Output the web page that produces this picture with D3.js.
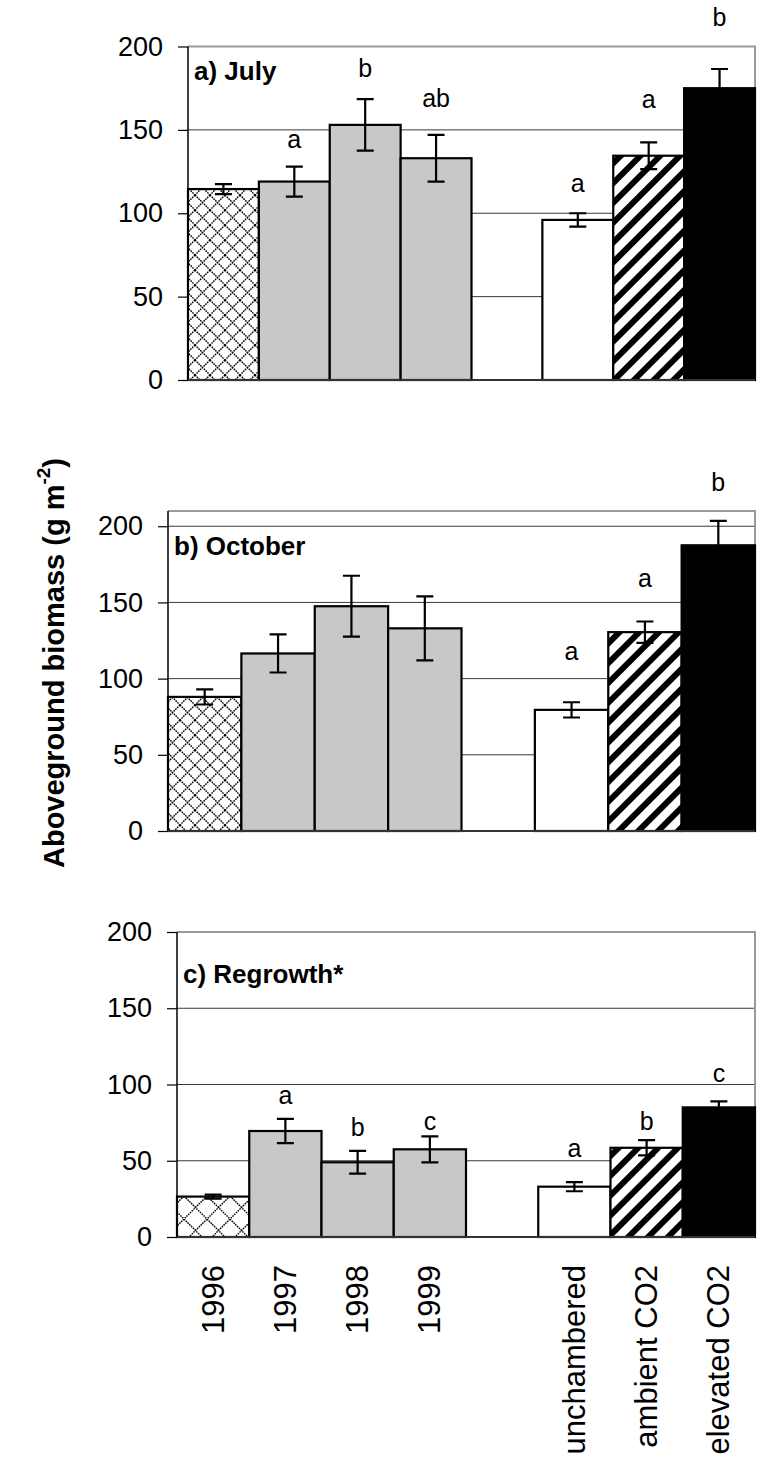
<!DOCTYPE html>
<html>
<head>
<meta charset="utf-8">
<script src="https://cdn.jsdelivr.net/npm/d3@7/dist/d3.min.js"></script>
<style>
  html, body { margin: 0; padding: 0; background: #fff; }
  svg { display: block; }
  text { font-family: "Liberation Sans", Arial, sans-serif; }
</style>
</head>
<body>
<svg id="chart" width="757" height="1460"></svg>
<script>
// Treatments along the x axis (a spacer slot separates years from chamber treatments)
const categories = ["1996", "1997", "1998", "1999", "unchambered", "ambient CO2", "elevated CO2"];
const yTicks = [0, 50, 100, 150, 200];

// a) July harvest
const julyMeans = [114.5, 119, 153, 133, 96, 134.5, 175];
const julyErr = [3, 9, 15.5, 14, 4, 8, 11.5];
const julyLetters = ["", "a", "b", "ab", "a", "a", "b"];
const julyLetterAt = [null, 139, 182, 164, 113, 163, 212];

// b) October harvest
const octMeans = [88, 116.5, 147.5, 133, 79.5, 130.5, 187.5];
const octErr = [5, 12.5, 20, 21, 5, 7, 16];
const octLetters = ["", "", "", "", "a", "a", "b"];
const octLetterAt = [null, null, null, null, 112, 160, 223];

// c) Regrowth
const regrowthMeans = [26.5, 69.5, 49, 57.5, 33, 58.5, 85];
const regrowthErr = [1.3, 8, 7.5, 8.5, 3, 5, 4];
const regrowthLetters = ["", "a", "b", "c", "a", "b", "c"];
const regrowthLetterAt = [null, 87, 66, 70, 52.5, 70, 101.5];

const svg = d3.select("#chart");
const defs = svg.append("defs");

// Fill style for each treatment
const fillKind = ["cross", "gray", "gray", "gray", "white", "stripe", "black"];

function makeCrossPattern(id, s) {
  const p = defs.append("pattern").attr("id", id)
    .attr("patternUnits", "userSpaceOnUse").attr("width", s).attr("height", s);
  p.append("rect").attr("width", s).attr("height", s).attr("fill", "#fff");
  p.append("path").attr("d", `M0,0L${s},${s}M${s},0L0,${s}`)
    .attr("stroke", "#000").attr("stroke-width", 1.4).attr("stroke-dasharray", "1.6 0.9");
}
makeCrossPattern("cross-a", 15);
makeCrossPattern("cross-b", 15);
makeCrossPattern("cross-c", 23);

const stripe = defs.append("pattern").attr("id", "stripe")
  .attr("patternUnits", "userSpaceOnUse").attr("width", 14).attr("height", 14)
  .attr("patternTransform", "rotate(45)");
stripe.append("rect").attr("width", 14).attr("height", 14).attr("fill", "#fff");
stripe.append("rect").attr("width", 6).attr("height", 14).attr("fill", "#000");

const panels = [
  { key: "a", title: "a) July", means: julyMeans, err: julyErr, letters: julyLetters, letterAt: julyLetterAt,
    x0: 188, x1: 755, yTop: 46.5, yBase: 380, max: 200, titleY: 80 },
  { key: "b", title: "b) October", means: octMeans, err: octErr, letters: octLetters, letterAt: octLetterAt,
    x0: 168, x1: 755, yTop: 511, yBase: 831, max: 210, titleY: 555 },
  { key: "c", title: "c) Regrowth*", means: regrowthMeans, err: regrowthErr, letters: regrowthLetters, letterAt: regrowthLetterAt,
    x0: 177, x1: 755, yTop: 932, yBase: 1237, max: 200, titleY: 983, showLabels: true }
];

const slots = categories.slice(0, 4).concat(["_gap"], categories.slice(4));

panels.forEach(p => {
  const g = svg.append("g");
  const x = d3.scaleBand().domain(slots).range([p.x0, p.x1]).paddingInner(0).paddingOuter(0);
  const y = d3.scaleLinear().domain([0, p.max]).range([p.yBase, p.yTop]);
  const cx = d => x(d) + x.bandwidth() / 2;

  const rows = categories.map((c, i) => ({
    cat: c, mean: p.means[i], err: p.err[i], letter: p.letters[i], letterAt: p.letterAt[i], kind: fillKind[i]
  }));

  // horizontal gridlines
  g.selectAll(".grid").data(yTicks.filter(t => (t > 0 && t < p.max) || (t === 200 && p.max > 200)))
    .join("line")
    .attr("x1", p.x0).attr("x2", p.x1)
    .attr("y1", d => y(d)).attr("y2", d => y(d))
    .attr("stroke", "#3a3a3a").attr("stroke-width", 1);

  // frame (top & right) in grey
  g.append("path")
    .attr("d", `M${p.x0},${y(p.max)}H${p.x1}V${p.yBase}`)
    .attr("fill", "none").attr("stroke", "#9a9a9a").attr("stroke-width", 2);

  const fillFor = k => {
    if (k === "cross") return `url(#cross-${p.key})`;
    if (k === "stripe") return "url(#stripe)";
    if (k === "gray") return "#c8c8c8";
    if (k === "black") return "#000";
    return "#fff";
  };

  // bars
  g.selectAll(".bar").data(rows)
    .join("rect")
    .attr("x", d => x(d.cat))
    .attr("width", x.bandwidth())
    .attr("y", d => y(d.mean))
    .attr("height", d => p.yBase - y(d.mean))
    .attr("fill", d => fillFor(d.kind))
    .attr("stroke", "#000").attr("stroke-width", 2.2);

  // error bars
  const cap = 8.5;
  g.selectAll(".err").data(rows)
    .join("path")
    .attr("d", d => {
      const c = cx(d.cat);
      const hi = y(d.mean + d.err);
      const lo = y(d.mean - d.err);
      return `M${c - cap},${hi}H${c + cap}M${c},${hi}V${lo}M${c - cap},${lo}H${c + cap}`;
    })
    .attr("fill", "none").attr("stroke", "#000").attr("stroke-width", 2.2);

  // axes
  const yAxis = d3.axisLeft(y).tickValues(yTicks).tickSize(10).tickSizeOuter(0).tickPadding(15);
  const ay = g.append("g").attr("transform", `translate(${p.x0},0)`).call(yAxis);
  ay.select(".domain").attr("d", `M0,${p.yTop}V${p.yBase}`).attr("stroke", "#000").attr("stroke-width", 1.5);
  ay.selectAll(".tick line").attr("stroke", "#000").attr("stroke-width", 1.2);
  ay.selectAll(".tick text").attr("font-size", 27).attr("fill", "#000")
    .attr("font-family", "'Liberation Sans', Arial, sans-serif");

  g.append("line").attr("x1", p.x0).attr("x2", p.x1)
    .attr("y1", p.yBase).attr("y2", p.yBase)
    .attr("stroke", "#333").attr("stroke-width", 2);

  // significance letters
  g.selectAll(".letter").data(rows.filter(d => d.letter !== ""))
    .join("text")
    .attr("x", d => cx(d.cat))
    .attr("y", d => y(d.letterAt))
    .attr("text-anchor", "middle")
    .attr("font-size", 25)
    .text(d => d.letter);

  // panel title
  g.append("text")
    .attr("x", p.x0 + 6).attr("y", p.titleY)
    .attr("font-size", 26).attr("font-weight", "bold")
    .text(p.title);

  // category labels under the last panel
  if (p.showLabels) {
    g.selectAll(".xlab").data(categories)
      .join("text")
      .attr("transform", d => `translate(${cx(d)},${p.yBase + 28}) rotate(-90)`)
      .attr("text-anchor", "end")
      .attr("dominant-baseline", "central")
      .attr("font-size", 31)
      .text(d => d);
  }
});

// shared y-axis title
const yt = svg.append("text")
  .attr("transform", "translate(54,663) rotate(-90)")
  .attr("text-anchor", "middle")
  .attr("dominant-baseline", "central")
  .attr("font-size", 29).attr("font-weight", "bold");
yt.append("tspan").text("Aboveground biomass (g m");
yt.append("tspan").attr("font-size", 19).attr("dy", -11).text("-2");
yt.append("tspan").attr("dy", 11).text(")");
</script>
</body>
</html>
